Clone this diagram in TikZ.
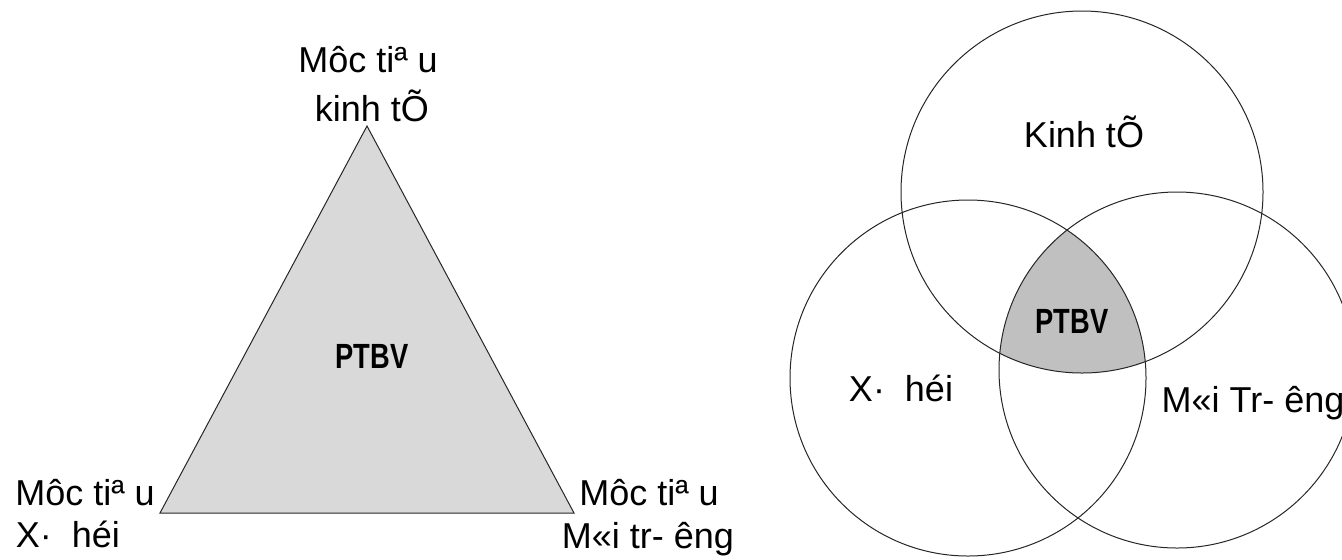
\documentclass[tikz,border=0pt]{standalone}
\usepackage{fontspec}
\setmainfont{Liberation Sans}
\usepackage{graphicx}
\definecolor{trigray}{HTML}{D9D9D9}
\definecolor{venngray}{HTML}{C0C0C0}
\tikzset{
  lbl/.style={anchor=base, inner sep=0pt, font=\fontsize{18}{22}\selectfont},
  core/.style={anchor=base, inner sep=0pt, font=\fontsize{17.5}{21}\selectfont\bfseries},
  ring/.style={draw=black!85, line width=0.5pt},
}
\newcommand{\ptbv}{\scalebox{0.78}[1]{PTBV}}

\begin{document}
\begin{tikzpicture}[x=0.5pt,y=-0.5pt]
\useasboundingbox (0,0) rectangle (1342,559);

% Triangle
\coordinate (apex) at (367,126);
\coordinate (bleft) at (160,513);
\coordinate (bright) at (574,513);
\filldraw[ring, fill=trigray] (apex) -- (bleft) -- (bright) -- cycle;
\node[core] (tcore) at (372,368) {\ptbv};

% Corner labels
\node[lbl] (goaltop) at (368,72) {Môc tiª u};
\node[lbl] (econtop) at (372,121) {kinh tÕ};
\node[lbl] (goalleft) at (85,505) {Môc tiª u};
\node[lbl] (socleft) at (68,547) {X·~~héi};
\node[lbl] (goalright) at (649,505) {Môc tiª u};
\node[lbl] (envright) at (648,548) {M«i tr- êng};

% Venn diagram
\def\ringr{89pt}
\def\ringtop{90.5pt}
\begin{scope}
\clip (968,378) circle (\ringr);
\clip (1177,370) circle (\ringr);
\fill[venngray] (1082,192) circle (\ringtop);
\end{scope}
\draw[ring] (1082,192) circle (\ringtop);
\draw[ring] (968,378) circle (\ringr);
\draw[ring] (1177,370) circle (\ringr);

\node[lbl] (econ) at (1084,147) {Kinh tÕ};
\node[lbl] (soc) at (901,401) {X·~~héi};
\node[lbl] (env) at (1253,412) {M«i Tr- êng};
\node[core] (vcore) at (1072,333) {\ptbv};
\end{tikzpicture}
\end{document}
